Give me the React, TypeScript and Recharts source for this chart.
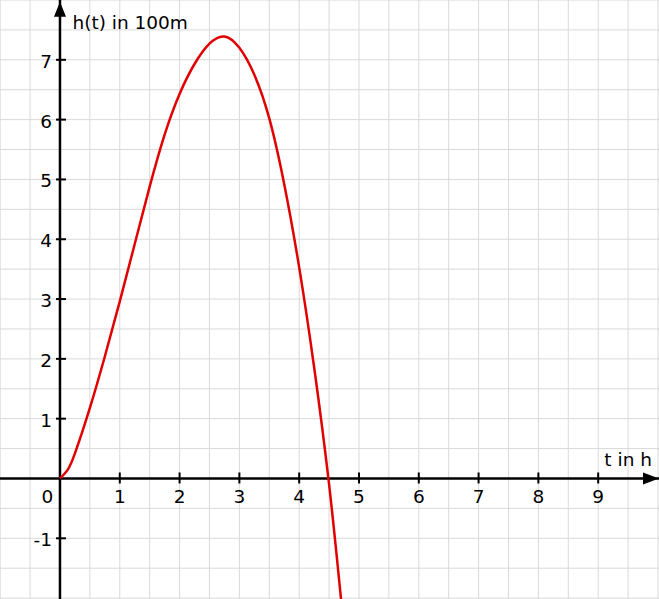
import React from 'react';
import { LineChart, Line, XAxis, YAxis, ReferenceLine, ReferenceDot } from 'recharts';

// Time t in hours
const tValues = [0, 0.125, 0.25, 0.5, 0.75, 1.0, 1.25, 1.5, 1.75, 2.0, 2.25, 2.5, 2.75, 3.0, 3.25, 3.5, 3.75, 4.0, 4.25, 4.5, 4.7];
// Height h(t) in 100 m
const hValues = [0, 0.14, 0.42, 1.18, 2.04, 2.96, 3.92, 4.88, 5.75, 6.43, 6.93, 7.27, 7.39, 7.2, 6.75, 6.02, 4.92, 3.53, 1.86, -0.1, -2.02];

const xTickValues = [1, 2, 3, 4, 5, 6, 7, 8, 9];
const yTickValues = [-1, 1, 2, 3, 4, 5, 6, 7];
const gridXValues = [-1, -0.5, 0, 0.5, 1, 1.5, 2, 2.5, 3, 3.5, 4, 4.5, 5, 5.5, 6, 6.5, 7, 7.5, 8, 8.5, 9, 9.5, 10];
const gridYValues = [-2, -1.5, -1, -0.5, 0, 0.5, 1, 1.5, 2, 2.5, 3, 3.5, 4, 4.5, 5, 5.5, 6, 6.5, 7, 7.5, 8];

const xDomain = [-1.003, 10.017];
const yDomain = [-2.015, 8.0];
const xArrowAt = 10.0;
const yArrowAt = 7.97;

const xAxisTitle = 't in h';
const yAxisTitle = 'h(t) in 100m';
const originLabel = '0';

const data = tValues.map((t, i) => ({ t, h: hValues[i] }));

const FONT = '"DejaVu Sans", Verdana, sans-serif';
const FS = 18.5;

export default function App() {
  return (
    <div style={{ position: 'absolute', left: 0, top: 0, background: '#fff' }}>
      <LineChart width={659} height={599} data={data} margin={{ top: 0, right: 0, bottom: 0, left: 0 }}>
        <XAxis dataKey="t" type="number" domain={xDomain} allowDataOverflow hide />
        <YAxis type="number" domain={yDomain} allowDataOverflow hide />
        {gridXValues.map((v) => (
          <ReferenceLine key={'gx' + v} x={v} stroke="#d9d9d9" strokeWidth={1} />
        ))}
        {gridYValues.map((v) => (
          <ReferenceLine key={'gy' + v} y={v} stroke="#d9d9d9" strokeWidth={1} />
        ))}
        <ReferenceLine y={0} stroke="#000" strokeWidth={2.5} />
        <ReferenceLine x={0} stroke="#000" strokeWidth={2.5} />
        {xTickValues.map((v) => (
          <ReferenceDot
            key={'xt' + v}
            x={v}
            y={0}
            r={1}
            shape={(p: any) => (
              <g>
                <line x1={p.cx} y1={p.cy - 6} x2={p.cx} y2={p.cy + 5} stroke="#000" strokeWidth={2} />
                <text x={p.cx} y={p.cy + 24.5} textAnchor="middle" fontFamily={FONT} fontSize={FS} fill="#000">
                  {v}
                </text>
              </g>
            )}
          />
        ))}
        {yTickValues.map((v) => (
          <ReferenceDot
            key={'yt' + v}
            x={0}
            y={v}
            r={1}
            shape={(p: any) => (
              <g>
                <line x1={p.cx - 4} y1={p.cy} x2={p.cx + 6} y2={p.cy} stroke="#000" strokeWidth={2} />
                <text x={p.cx - 8} y={p.cy + 8} textAnchor="end" fontFamily={FONT} fontSize={FS} fill="#000">
                  {v}
                </text>
              </g>
            )}
          />
        ))}
        <ReferenceDot
          x={xArrowAt}
          y={0}
          r={1}
          shape={(p: any) => (
            <g>
              <polygon points={`${p.cx + 1},${p.cy} ${p.cx - 15},${p.cy - 6} ${p.cx - 15},${p.cy + 6}`} fill="#000" />
              <text x={p.cx - 6} y={p.cy - 12.5} textAnchor="end" fontFamily={FONT} fontSize={FS} fill="#000">
                {xAxisTitle}
              </text>
            </g>
          )}
        />
        <ReferenceDot
          x={0}
          y={yArrowAt}
          r={1}
          shape={(p: any) => (
            <g>
              <polygon points={`${p.cx},${p.cy} ${p.cx - 6},${p.cy + 15} ${p.cx + 6},${p.cy + 15}`} fill="#000" />
              <text x={p.cx + 12.5} y={p.cy + 27.5} textAnchor="start" fontFamily={FONT} fontSize={FS} fill="#000">
                {yAxisTitle}
              </text>
            </g>
          )}
        />
        <ReferenceDot
          x={0}
          y={0}
          r={1}
          fill="none"
          stroke="none"
          shape={(p: any) => (
            <text x={p.cx - 12.5} y={p.cy + 24.5} textAnchor="middle" fontFamily={FONT} fontSize={FS} fill="#000">
              {originLabel}
            </text>
          )}
        />
        <Line
          dataKey="h"
          type="natural"
          stroke="#e00000"
          strokeWidth={2.5}
          dot={false}
          activeDot={false}
          isAnimationActive={false}
        />
      </LineChart>
    </div>
  );
}
